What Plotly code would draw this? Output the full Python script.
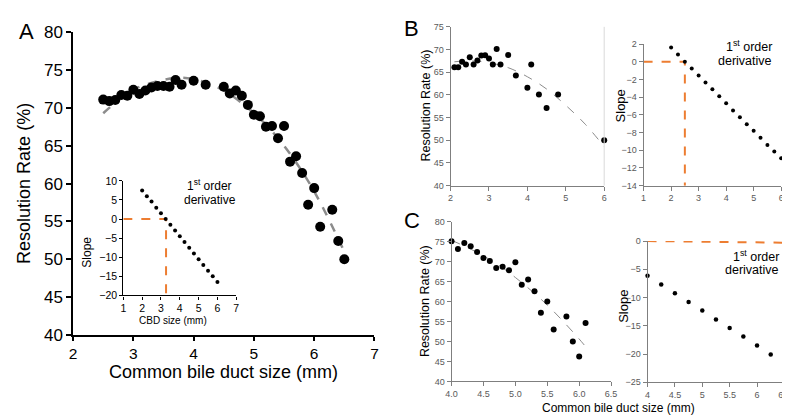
import plotly.graph_objects as go

W, H = 790, 418
def PX(x): return x / W
def PY(y): return 1 - y / H

FONT = "Arial, Liberation Sans, sans-serif"

# ---------------- Panel A ----------------
a_x = [2.5, 2.6, 2.7, 2.8, 2.9, 3.0, 3.1, 3.2, 3.3, 3.4, 3.5, 3.6, 3.7, 3.8, 4.0, 4.2,
       4.5, 4.6, 4.7, 4.8, 4.9, 5.0, 5.1, 5.2, 5.3, 5.4, 5.5, 5.6, 5.7, 5.8, 5.9, 6.0,
       6.1, 6.3, 6.4, 6.5]
a_y = [71.1, 70.9, 71.05, 71.7, 71.6, 72.4, 71.85, 72.3, 72.7, 72.9, 72.9, 72.8, 73.7, 73.06,
       73.6, 73.06, 72.8, 71.9, 72.3, 71.6, 70.4, 69.1, 68.9, 67.5, 67.6, 66.0, 67.6, 62.9,
       63.6, 61.4, 57.2, 59.4, 54.3, 56.55, 52.4, 50.0]
a_fit_x = [2.5, 3.0, 3.5, 3.8, 4.1, 4.5, 5.0, 5.4, 5.8, 6.1, 6.5]
a_fit_y = [69.3, 72.4, 73.7, 74.0, 73.6, 72.3, 69.3, 66.0, 61.6, 57.5, 51.0]

a_der_x = [2.0, 2.25, 2.5, 2.75, 3.0, 3.25, 3.5, 3.75, 4.0, 4.25, 4.5, 4.75, 5.0, 5.25,
           5.5, 5.75, 6.0]
a_der_y = [7.5, 6.0, 4.6, 3.0, 1.5, 0.0, -1.5, -3.0, -4.5, -6.0, -7.5, -9.0, -10.5, -12.0,
           -13.5, -15.0, -16.5]
a_ref_x = [1, 3.27, 3.27]
a_ref_y = [0, 0, -20]

# ---------------- Panel B ----------------
b_x = [2.1, 2.2, 2.3, 2.4, 2.5, 2.6, 2.7, 2.8, 2.9, 3.0, 3.1, 3.2, 3.3, 3.5, 3.7, 4.0,
       4.1, 4.3, 4.5, 4.8, 6.0]
b_y = [66.1, 66.1, 67.3, 66.7, 68.3, 66.7, 67.6, 68.7, 68.75, 68.0, 66.7, 70.1, 66.7, 68.8,
       64.3, 61.6, 66.7, 60.1, 57.1, 60.1, 50.0]
b_fit_x = [2.1, 2.5, 3.0, 3.5, 4.0, 4.5, 5.0, 5.5, 6.0]
b_fit_y = [67.3, 67.5, 67.1, 66.0, 64.0, 61.3, 57.7, 53.6, 48.6]

b_der_x = [2.0, 2.25, 2.5, 2.75, 3.0, 3.25, 3.5, 3.75, 4.0, 4.25, 4.5, 4.75, 5.0, 5.25,
           5.5, 5.75, 6.0]
b_der_y = [1.6, 0.81, 0.0, -0.76, -1.55, -2.34, -3.1, -3.9, -4.7, -5.5, -6.26, -7.05, -7.8,
           -8.6, -9.4, -10.15, -10.9]
b_ref_x = [1, 2.5, 2.5]
b_ref_y = [0, 0, -14]

# ---------------- Panel C ----------------
c_x = [4.0, 4.1, 4.2, 4.3, 4.4, 4.5, 4.6, 4.7, 4.8, 4.9, 5.0, 5.1, 5.2, 5.3, 5.4, 5.5,
       5.6, 5.8, 5.9, 6.0, 6.1]
c_y = [75.1, 73.1, 74.65, 73.8, 72.35, 70.9, 70.1, 68.4, 68.7, 67.8, 69.8, 64.2, 65.5,
       62.55, 57.2, 60.0, 53.0, 56.25, 50.0, 46.2, 54.6]
c_fit_x = [4.0, 4.25, 4.5, 4.75, 5.0, 5.25, 5.5, 5.75, 6.0, 6.1]
c_fit_y = [75.3, 73.5, 71.4, 69.0, 66.0, 62.7, 59.1, 55.0, 50.6, 48.7]

c_der_x = [4.0, 4.25, 4.5, 4.75, 5.0, 5.25, 5.5, 5.75, 6.0, 6.25, 6.5]
c_der_y = [-6.13, -7.7, -9.23, -10.8, -12.3, -13.9, -15.4, -16.9, -18.5, -20.1, -21.6]
c_ref_x = [4.0, 6.5]
c_ref_y = [0.0, -0.3]

ORANGE = "#ED7D31"
GRAY_FIT = "#8C8C8C"

fig = go.Figure()

def add_pts(x, y, xa, ya, size):
    fig.add_trace(go.Scatter(x=x, y=y, xaxis=xa, yaxis=ya, mode="markers",
                             marker=dict(color="black", size=size), cliponaxis=False,
                             showlegend=False, hoverinfo="skip"))

def add_line(x, y, xa, ya, color, width, dash, shape="linear"):
    fig.add_trace(go.Scatter(x=x, y=y, xaxis=xa, yaxis=ya, mode="lines",
                             line=dict(color=color, width=width, dash=dash, shape=shape),
                             cliponaxis=False, showlegend=False, hoverinfo="skip"))

# A
add_line(a_fit_x, a_fit_y, "x", "y", GRAY_FIT, 2.5, "dash", "spline")
add_pts(a_x, a_y, "x", "y", 10)
add_line(a_ref_x, a_ref_y, "x2", "y2", ORANGE, 2, "dash")
add_pts(a_der_x, a_der_y, "x2", "y2", 4)
# B
add_line(b_fit_x, b_fit_y, "x3", "y3", GRAY_FIT, 1, "dash", "spline")
add_pts(b_x, b_y, "x3", "y3", 6)
add_line(b_ref_x, b_ref_y, "x4", "y4", ORANGE, 2, "dash")
add_pts(b_der_x, b_der_y, "x4", "y4", 4)
# C
add_line(c_fit_x, c_fit_y, "x5", "y5", GRAY_FIT, 1, "dash", "spline")
add_pts(c_x, c_y, "x5", "y5", 6)
add_line(c_ref_x, c_ref_y, "x6", "y6", ORANGE, 2, "dash")
add_pts(c_der_x, c_der_y, "x6", "y6", 4.5)

def ax(domain, rng, tickvals, anchor, big=False, fmt=None, color="black", fsize=9, lw=1, tl=4):
    d = dict(domain=domain, range=rng, tickvals=tickvals, anchor=anchor,
             showline=True, linecolor=color, linewidth=lw, ticks="outside",
             ticklen=tl, tickwidth=lw, tickcolor=color,
             showgrid=False, zeroline=False, fixedrange=True,
             tickfont=dict(family=FONT, size=fsize, color="black" if big else "#595959"))
    if fmt:
        d["tickformat"] = fmt
    return d

BC = "#7F7F7F"
layout = dict(
    width=W, height=H, margin=dict(l=0, r=0, t=0, b=0),
    paper_bgcolor="white", plot_bgcolor="rgba(0,0,0,0)",
    font=dict(family=FONT),
    xaxis=ax([PX(60), PX(366)], [2, 7], [2, 3, 4, 5, 6, 7], "y", big=True, fsize=15.5, lw=1.5, tl=4),
    yaxis=ax([PY(333), PY(16)], [40, 80], [40, 45, 50, 55, 60, 65, 70, 75, 80], "x",
             big=True, fsize=17, lw=1.5, tl=5),
    xaxis2=ax([PX(111), PX(225.7)], [1, 7], [1, 2, 3, 4, 5, 6, 7], "y2", big=True, fsize=10.5,
              lw=1.3, tl=3),
    yaxis2=ax([PY(291.7), PY(171.7)], [-20, 10], [-20, -15, -10, -5, 0, 5, 10], "x2",
              big=True, fsize=10.5, lw=1.3, tl=3),
    xaxis3=ax([PX(443.3), PX(599.3)], [2, 6], [2, 3, 4, 5, 6], "y3", color=BC),
    yaxis3=ax([PY(176.7), PY(10.3)], [40, 75], [40, 45, 50, 55, 60, 65, 70, 75], "x3", color=BC),
    xaxis4=ax([PX(639.3), PX(779)], [1, 6], [1, 2, 3, 4, 5, 6], "y4", color=BC),
    yaxis4=ax([PY(176.7), PY(28.3)], [-14, 2], [-14, -12, -10, -8, -6, -4, -2, 0, 2], "x4", color=BC),
    xaxis5=ax([PX(444.3), PX(606.3)], [4, 6.5], [4, 4.5, 5, 5.5, 6, 6.5], "y5", fmt=".1f", color=BC),
    yaxis5=ax([PY(381.7), PY(214.3)], [40, 80], [40, 45, 50, 55, 60, 65, 70, 75, 80], "x5", color=BC),
    xaxis6=ax([PX(643.3), PX(782.3)], [4, 6.5], [4, 4.5, 5, 5.5, 6, 6.5], "y6", color=BC),
    yaxis6=ax([PY(382.7), PY(234.7)], [-25, 0], [-25, -20, -15, -10, -5, 0], "x6", color=BC),
)
fig.update_layout(**layout)

# light frame line on the right of panel B-left
fig.add_shape(type="line", xref="paper", yref="paper", x0=PX(599.3), x1=PX(599.3),
              y0=PY(176.7), y1=PY(10.3), line=dict(color="#D9D9D9", width=1))

def note(text, x, y, size, xanchor="center", angle=0, color="black"):
    fig.add_annotation(text=text, x=PX(x), y=PY(y), xref="paper", yref="paper",
                       showarrow=False, xanchor=xanchor, yanchor="middle", textangle=angle,
                       font=dict(family=FONT, size=size, color=color))

# panel letters
note("A", 13, 15, 22)
note("B", 404, 12, 22)
note("C", 404, 213, 22)

# A titles
note("Common bile duct size (mm)", 213, 372, 18)
note("Resolution Rate (%)", 10, 174, 18, angle=-90)
note("CBD size (mm)", 161, 318, 10)
note("Slope", 74, 246, 12, angle=-90)
note("1<sup>st</sup> order", 199, 176, 12)
note("derivative", 199, 191.5, 12)

# B titles
note("Resolution Rate (%)", 418, 93, 12.5, angle=-90)
note("Slope", 616, 93, 13, angle=-90)
note("1<sup>st</sup> order", 772, 30, 12.5, xanchor="right")
note("derivative", 772, 46, 12.5, xanchor="right")

# C titles
note("Resolution Rate (%)", 418, 298, 12.5, angle=-90)
note("Slope", 619, 303, 13, angle=-90)
note("1<sup>st</sup> order", 779, 250, 12.5, xanchor="right")
note("derivative", 779, 265.5, 12.5, xanchor="right")
note("Common bile duct size (mm)", 614, 410, 12)

fig.write_html("out.html")
